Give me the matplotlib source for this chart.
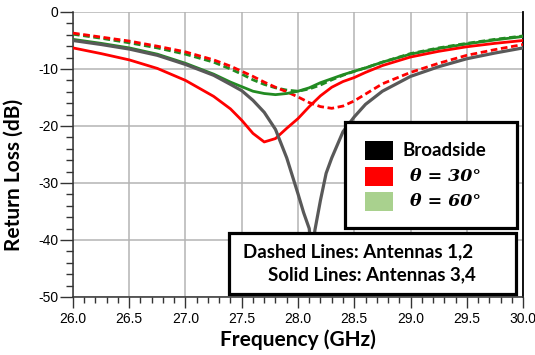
import matplotlib
matplotlib.use('Agg')
import matplotlib.pyplot as plt
from matplotlib.patches import Rectangle
from matplotlib.ticker import MultipleLocator

# return loss traces (dB) over frequency (GHz)
freq = [26.0, 26.25, 26.5, 26.75, 27.0, 27.25, 27.4, 27.5, 27.6, 27.7, 27.8,
        27.9, 28.0, 28.1, 28.2, 28.3, 28.4, 28.5, 28.6, 28.75, 29.0, 29.25,
        29.5, 29.75, 30.0]

red_dashed = [-3.7, -4.4, -5.1, -6.0, -7.0, -8.4, -9.5, -10.4, -11.3, -12.3, -13.2,
              -14.0, -14.9, -15.9, -16.6, -16.9, -16.5, -15.6, -14.4, -12.6, -10.6, -9.0,
              -7.6, -6.6, -5.7]
green_dashed = [-3.9, -4.6, -5.4, -6.3, -7.4, -8.8, -10.0, -10.9, -11.9, -12.7, -13.3,
                -13.7, -13.9, -13.5, -12.8, -11.9, -11.1, -10.4, -9.8, -8.8, -7.3, -6.3,
                -5.5, -4.8, -4.2]
green_solid = [-4.8, -5.5, -6.3, -7.4, -9.0, -10.9, -12.3, -13.1, -13.9, -14.3, -14.5,
               -14.3, -13.9, -13.3, -12.4, -11.7, -11.0, -10.4, -9.8, -8.8, -7.4, -6.4,
               -5.6, -4.9, -4.3]
red_solid = [-6.3, -7.3, -8.4, -9.9, -12.0, -14.8, -17.0, -19.0, -21.3, -22.8, -22.2,
             -20.4, -18.7, -16.6, -14.7, -13.2, -12.2, -11.5, -10.6, -9.4, -7.9, -6.9,
             -6.1, -5.5, -5.0]

freq_broadside = [26.0, 26.25, 26.5, 26.75, 27.0, 27.25, 27.4, 27.5, 27.6, 27.7, 27.8,
                  27.9, 28.0, 28.05, 28.1, 28.125, 28.15, 28.2, 28.25, 28.3, 28.4, 28.5,
                  28.6, 28.75, 29.0, 29.25, 29.5, 29.75, 30.0]
broadside = [-5.0, -5.7, -6.5, -7.6, -9.2, -11.1, -12.7, -13.8, -15.5, -17.6, -20.6,
             -25.6, -31.9, -35.2, -38.0, -44.0, -38.3, -33.0, -28.3, -25.6, -21.0, -18.4,
             -16.2, -13.9, -11.3, -9.6, -8.2, -7.2, -6.3]

legend_labels = ['Broadside', 'θ = 30°', 'θ = 60°']
legend_colors = ['#000000', '#ff0000', '#a9d18e']
note_lines = ['Dashed Lines: Antennas 1,2', 'Solid Lines: Antennas 3,4']

plt.rcParams['axes.unicode_minus'] = False

fig = plt.figure(figsize=(5.35, 3.55), dpi=100)
ax = fig.add_axes([0.1364, 0.1634, 0.8412, 0.8028])

dash = (0, (2.4, 1.3))
ax.plot(freq, green_dashed, color='#228b22', lw=2.0, ls=dash, zorder=3)
ax.plot(freq, red_dashed, color='#ff0000', lw=2.0, ls=dash, zorder=3)
ax.plot(freq, green_solid, color='#228b22', lw=2.0, zorder=3)
ax.plot(freq, red_solid, color='#ff0000', lw=2.0, zorder=3)
ax.plot(freq_broadside, broadside, color='#595959', lw=2.3, zorder=3)

ax.set_xlim(26, 30)
ax.set_ylim(-50, 0)
ax.xaxis.set_major_locator(MultipleLocator(0.5))
ax.xaxis.set_minor_locator(MultipleLocator(0.1))
ax.yaxis.set_major_locator(MultipleLocator(10))
ax.yaxis.set_minor_locator(MultipleLocator(2))
ax.xaxis.set_major_formatter(matplotlib.ticker.FormatStrFormatter('%.1f'))

ax.grid(True, which='major', color='#b4b4b4', lw=1.1, zorder=0)
ax.set_axisbelow(True)
# no grid line along the top edge
ax.get_ygridlines()[-1].set_visible(False)

ax.spines['top'].set_visible(False)
for s in ['left', 'bottom']:
    ax.spines[s].set_color('#333333')
    ax.spines[s].set_linewidth(1.1)
ax.spines['right'].set_color('black')
ax.spines['right'].set_linewidth(1.3)

ax.tick_params(axis='y', which='major', direction='out', length=9.5, width=1, color='#333333', pad=1)
ax.tick_params(axis='y', which='minor', direction='out', length=5, width=1, color='#333333')
ax.tick_params(axis='x', which='major', direction='out', length=8, width=1, color='#333333', pad=3)
ax.tick_params(axis='x', which='minor', direction='out', length=4, width=1, color='#333333')
for lab in ax.get_xticklabels() + ax.get_yticklabels():
    lab.set_fontfamily('Liberation Sans')
    lab.set_fontsize(10)

ax.set_xlabel('Frequency (GHz)', fontfamily='Lato', fontweight='bold', fontsize=15, labelpad=2)
ax.set_ylabel('Return Loss (dB)', fontfamily='Lato', fontweight='bold', fontsize=15)
ax.yaxis.set_label_coords(-0.11, 0.428)

# legend box
ax.add_patch(Rectangle((0.604, 0.243), 0.383, 0.372, transform=ax.transAxes,
                       facecolor='white', edgecolor='black', lw=2.3, zorder=5))
ys = [0.513, 0.4225, 0.335]
for y, lab, c in zip(ys, legend_labels, legend_colors):
    ax.add_patch(Rectangle((0.649, y - 0.033), 0.062, 0.066, transform=ax.transAxes,
                           facecolor=c, edgecolor='none', zorder=6))
ax.text(0.733, ys[0], legend_labels[0], transform=ax.transAxes, ha='left', va='center',
        fontfamily='Lato', fontweight='bold', fontsize=13.5, zorder=7)
for y, lab in zip(ys[1:], legend_labels[1:]):
    ax.text(0.827, y, lab, transform=ax.transAxes, ha='center', va='center',
            fontfamily='DejaVu Serif', fontweight='bold', fontstyle='italic',
            fontsize=12.5, zorder=7)

# line style note
ax.add_patch(Rectangle((0.347, 0.0105), 0.637, 0.214, transform=ax.transAxes,
                       facecolor='white', edgecolor='black', lw=2.3, zorder=5))
ax.text(0.889, 0.159, note_lines[0], transform=ax.transAxes, ha='right', va='center',
        fontfamily='Lato', fontweight='bold', fontsize=13.5, zorder=7)
ax.text(0.896, 0.077, note_lines[1], transform=ax.transAxes, ha='right', va='center',
        fontfamily='Lato', fontweight='bold', fontsize=13.5, zorder=7)

fig.savefig('out.png', dpi=100)
